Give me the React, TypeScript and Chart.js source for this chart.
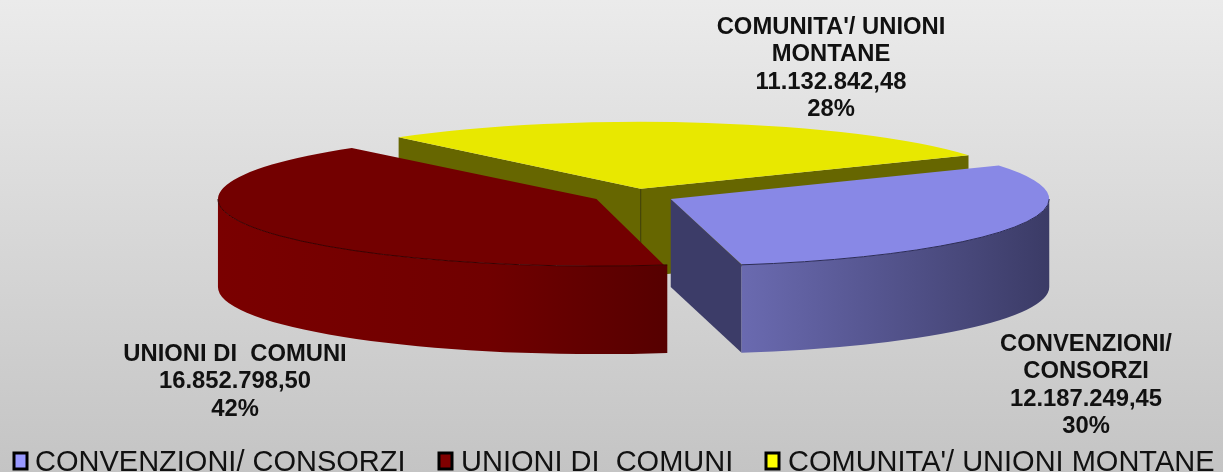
import React, { useEffect, useRef } from "react";
import { Chart, registerables } from "chart.js";

Chart.register(...registerables);

const categories = ["CONVENZIONI/ CONSORZI", "UNIONI DI  COMUNI", "COMUNITA'/ UNIONI MONTANE"];
const values = [12187249.45, 16852798.5, 11132842.48];
const labelLines = [["CONVENZIONI/", "CONSORZI"], ["UNIONI DI  COMUNI"], ["COMUNITA'/ UNIONI", "MONTANE"]];
const topColors = ["#8888e6", "#730000", "#e8e800"];
const legendColors = ["#9999ff", "#800000", "#ffff00"];
const cutColors = ["#3c3c68", "#4a0000", "#666600"];
const edgeColors = ["#2c2c58", "#3a0000", "#3a3a00"];
const wallStops = [
  ["#6a6ab0", "#3b3b66"],
  ["#7a0000", "#560000"],
  ["#666600", "#666600"],
];

const W = 1223;
const H = 472;
const EXPLODE = 21;
const PIE = { cx: 633.5, cy: 196, rx: 378.5, ry: 67, depth: 88 };
const LABEL_POS = [
  { x: 1086, y: 344 },
  { x: 235, y: 354 },
  { x: 831, y: 27 },
];
const LEGEND_POS = [
  { box: 13, text: 35 },
  { box: 438, text: 461 },
  { box: 765, text: 788 },
];

const total = values.reduce((a, b) => a + b, 0);
const fmt = (v: number) =>
  v.toLocaleString("it-IT", { minimumFractionDigits: 2, maximumFractionDigits: 2, useGrouping: "always" } as any);

const pie3d = {
  id: "pie3d",
  beforeDraw(chart: any) {
    const { ctx } = chart;
    const g = ctx.createLinearGradient(0, 0, 0, H);
    g.addColorStop(0, "#ebebeb");
    g.addColorStop(1, "#c4c4c4");
    ctx.save();
    ctx.fillStyle = g;
    ctx.fillRect(0, 0, W, H);
    ctx.restore();
  },
  beforeDatasetsDraw(chart: any) {
    const { ctx } = chart;
    const meta = chart.getDatasetMeta(0);
    const arcs = meta.data;
    const R = meta.controller.outerRadius;
    // the arc element widens its radius by offset/4 * fix; cancel it so every slice has radius R
    arcs.forEach((a: any) => {
      const fix = 1 - Math.sin(Math.min(Math.PI, a.circumference));
      a.outerRadius = R - EXPLODE * fix;
    });
    const cx0 = arcs[0].x;
    const cy0 = arcs[0].y;
    const sx = PIE.rx / R;
    const sy = PIE.ry / R;
    const d = PIE.depth / sy;
    ctx.save();
    ctx.translate(PIE.cx, PIE.cy);
    ctx.scale(sx, sy);
    ctx.translate(-cx0, -cy0);
    // back to front: walls first, the library's arcs then draw the top faces
    [2, 1, 0].forEach((i) => {
      const a = arcs[i];
      const mid = (a.startAngle + a.endAngle) / 2;
      const x = a.x + Math.cos(mid) * EXPLODE;
      const y = a.y + Math.sin(mid) * EXPLODE;
      const cut = (ang: number) => {
        ctx.beginPath();
        ctx.moveTo(x, y);
        ctx.lineTo(x + Math.cos(ang) * R, y + Math.sin(ang) * R);
        ctx.lineTo(x + Math.cos(ang) * R, y + Math.sin(ang) * R + d);
        ctx.lineTo(x, y + d);
        ctx.closePath();
        ctx.fillStyle = cutColors[i];
        ctx.fill();
      };
      if (Math.sin(a.startAngle - Math.PI / 2) > 0) cut(a.startAngle);
      if (Math.sin(a.endAngle + Math.PI / 2) > 0) cut(a.endAngle);
      if (i === 2) {
        ctx.beginPath();
        ctx.moveTo(x, y);
        ctx.lineTo(x, y + d);
        ctx.save();
        ctx.setTransform(1, 0, 0, 1, 0, 0);
        ctx.strokeStyle = edgeColors[i];
        ctx.lineWidth = 1;
        ctx.stroke();
        ctx.restore();
      }
      const a0 = Math.max(a.startAngle, 0);
      const a1 = Math.min(a.endAngle, Math.PI);
      if (a1 > a0) {
        const xa = x + Math.cos(a0) * R;
        const xb = x + Math.cos(a1) * R;
        const left = Math.min(xa, xb);
        const right = Math.max(xa, xb);
        const g = ctx.createLinearGradient(left, 0, right, 0);
        g.addColorStop(0, wallStops[i][0]);
        if (i === 1) g.addColorStop(0.6, "#700000");
        g.addColorStop(1, wallStops[i][1]);
        ctx.beginPath();
        ctx.arc(x, y, R, a0, a1);
        ctx.arc(x, y + d, R, a1, a0, true);
        ctx.closePath();
        ctx.fillStyle = g;
        ctx.fill();
      }
    });
  },
  afterDatasetsDraw(chart: any) {
    const { ctx } = chart;
    const meta = chart.getDatasetMeta(0);
    const arcs = meta.data;
    const R = meta.controller.outerRadius;
    // thin dark rim where the top faces meet the outer walls
    [0, 1].forEach((i) => {
      const a = arcs[i];
      const mid = (a.startAngle + a.endAngle) / 2;
      const a0 = Math.max(a.startAngle, 0);
      const a1 = Math.min(a.endAngle, Math.PI);
      ctx.beginPath();
      ctx.arc(a.x + Math.cos(mid) * EXPLODE, a.y + Math.sin(mid) * EXPLODE, R, a0, a1);
      ctx.save();
      ctx.setTransform(1, 0, 0, 1, 0, 0);
      ctx.strokeStyle = edgeColors[i];
      ctx.lineWidth = 1;
      ctx.stroke();
      ctx.restore();
    });
    ctx.restore();
    // data labels
    ctx.save();
    ctx.fillStyle = "#111";
    ctx.textAlign = "center";
    ctx.textBaseline = "middle";
    ctx.font = 'bold 23.8px "Liberation Sans"';
    values.forEach((v, i) => {
      const lines = [...labelLines[i], fmt(v), `${Math.round((v / total) * 100)}%`];
      lines.forEach((t, k) => ctx.fillText(t, LABEL_POS[i].x, LABEL_POS[i].y + k * 27.5));
    });
    // legend
    ctx.textAlign = "left";
    ctx.textBaseline = "alphabetic";
    ctx.font = '29px "Liberation Sans"';
    categories.forEach((c, i) => {
      ctx.fillStyle = legendColors[i];
      ctx.fillRect(LEGEND_POS[i].box, 452, 15, 18);
      ctx.strokeStyle = "#000";
      ctx.lineWidth = 3;
      ctx.strokeRect(LEGEND_POS[i].box + 1, 453, 13, 16);
      ctx.fillStyle = "#111";
      ctx.fillText(c, LEGEND_POS[i].text, 471);
    });
    ctx.restore();
  },
};

export default function App() {
  const ref = useRef<HTMLCanvasElement>(null);
  useEffect(() => {
    const chart = new Chart(ref.current!, {
      type: "pie",
      data: {
        labels: categories,
        datasets: [
          {
            data: values,
            backgroundColor: topColors,
            borderWidth: 0,
            offset: EXPLODE * 4,
            clip: false,
          } as any,
        ],
      },
      options: {
        responsive: false,
        animation: false,
        events: [],
        rotation: 60,
        layout: { padding: 0 },
        plugins: { legend: { display: false }, tooltip: { enabled: false } },
      },
      plugins: [pie3d],
    } as any);
    return () => chart.destroy();
  }, []);
  return (
    <canvas
      ref={ref}
      width={W}
      height={H}
      style={{ position: "fixed", left: 0, top: 0, display: "block", width: W, height: H }}
    />
  );
}
